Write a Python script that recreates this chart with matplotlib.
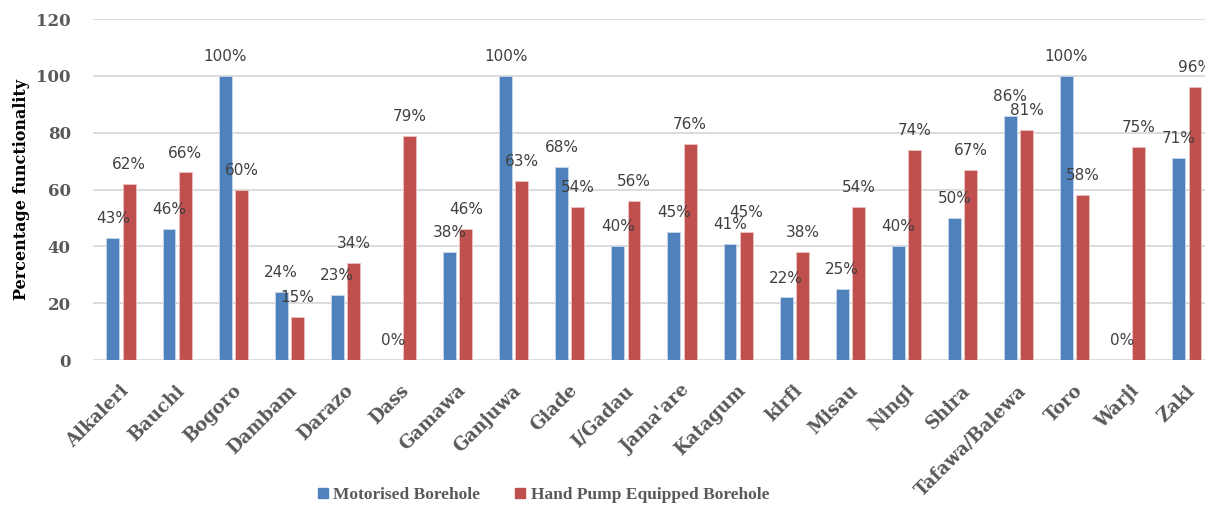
import matplotlib.pyplot as plt
from matplotlib.lines import Line2D
from matplotlib.transforms import ScaledTranslation
import numpy as np

# Functionality of boreholes per LGA (%)
lgas = ['Alkaleri', 'Bauchi', 'Bogoro', 'Dambam', 'Darazo', 'Dass', 'Gamawa',
        'Ganjuwa', 'Giade', 'I/Gadau', "Jama'are", 'Katagum', 'kirfi', 'Misau',
        'Ningi', 'Shira', 'Tafawa/Balewa', 'Toro', 'Warji', 'Zaki']
motorised = [43, 46, 100, 24, 23, 0, 38, 100, 68, 40, 45, 41, 22, 25, 40, 50, 86, 100, 0, 71]
hand_pump = [62, 66, 60, 15, 34, 79, 46, 63, 54, 56, 76, 45, 38, 54, 74, 67, 81, 58, 75, 96]
yticks = [0, 20, 40, 60, 80, 100, 120]

blue = '#4F81BD'
red = '#C0504D'
grey = '#595959'

fig = plt.figure(figsize=(12.05, 5.14), dpi=100)
ax = fig.add_axes([0.0772, 0.2996, 0.931, 0.6634])

x = np.arange(len(lgas))
w = 0.23
off = 0.145
b1 = ax.bar(x - off, motorised, w, color=blue, edgecolor='#C9D7EA', linewidth=0.6, zorder=3)
b2 = ax.bar(x + off, hand_pump, w, color=red, edgecolor='#EBC3C2', linewidth=0.6, zorder=3)

# value labels above every bar
for bars, vals in ((b1, motorised), (b2, hand_pump)):
    for bar, v in zip(bars, vals):
        ax.annotate(f'{v}%', (bar.get_x() + bar.get_width() / 2, v),
                    xytext=(0, 14), textcoords='offset points',
                    ha='center', va='center', fontsize=11, color='#404040',
                    family='DejaVu Sans', zorder=4)

ax.set_xlim(-0.5, len(lgas) - 0.5)
ax.set_ylim(0, 120)
ax.set_yticks(yticks)
ax.set_yticklabels([str(t) for t in yticks], family='DejaVu Serif',
                   fontweight='bold', fontsize=12, color=grey)
ax.grid(axis='y', color='#D9D9D9', linewidth=1.3, zorder=0)
ax.tick_params(axis='y', length=0, pad=16)
ax.tick_params(axis='x', length=0, pad=4)
ax.set_xticks(x)
ax.set_xticklabels(lgas, rotation=45, ha='right', va='center', rotation_mode='anchor',
                   family='DejaVu Serif', fontweight='bold', fontsize=13, color=grey)
shift = ScaledTranslation(5 / 100, -7 / 100, fig.dpi_scale_trans)
for lbl in ax.get_xticklabels():
    lbl.set_y(-0.045)
    lbl.set_transform(lbl.get_transform() + shift)
for s in ax.spines.values():
    s.set_visible(False)

ax.set_ylabel('Percentage functionality', family='DejaVu Serif', fontweight='bold',
              fontsize=11.5, color='black')
ax.yaxis.set_label_coords(-0.056, 0.5)

handles = [Line2D([], [], marker='s', linestyle='none', markersize=6.5, color=blue),
           Line2D([], [], marker='s', linestyle='none', markersize=6.5, color=red)]
fig.legend(handles, ['Motorised Borehole', 'Hand Pump Equipped Borehole'],
           loc='center', bbox_to_anchor=(0.451, 0.037), ncol=2, frameon=False,
           handlelength=0.6, handletextpad=0.3, columnspacing=2.0,
           prop={'family': 'Liberation Serif', 'weight': 'bold', 'size': 12.5},
           labelcolor=grey)

fig.savefig('out.png', dpi=100)
